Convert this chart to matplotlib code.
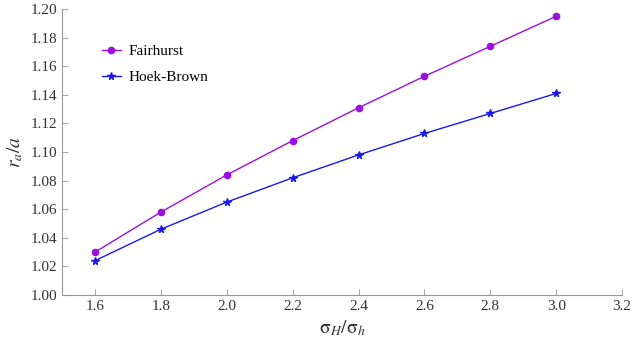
import matplotlib.pyplot as plt

# Datos
ratio = [1.6, 1.8, 2.0, 2.2, 2.4, 2.6, 2.8, 3.0]
fairhurst = [1.030, 1.058, 1.084, 1.108, 1.131, 1.153, 1.174, 1.195]
hoek_brown = [1.024, 1.046, 1.065, 1.082, 1.098, 1.113, 1.127, 1.141]

plt.rcParams['font.family'] = ['Liberation Serif', 'DejaVu Serif']
plt.rcParams['mathtext.fontset'] = 'stix'

fig = plt.figure(figsize=(6.44, 3.51), dpi=100)
ax = fig.add_axes([0.0963, 0.1595, 0.8697, 0.8145])

ax.plot(ratio, fairhurst, color='#9b10e0', marker='o', markersize=4.5, lw=1.0,
        label='Fairhurst')
ax.plot(ratio, hoek_brown, color='#1a1ae6', marker='*', markersize=5.5, lw=1.0,
        label='Hoek-Brown')

ax.set_xlim(1.5, 3.2)
ax.set_ylim(1.00, 1.20)
ax.set_xticks([1.6, 1.8, 2.0, 2.2, 2.4, 2.6, 2.8, 3.0, 3.2])
ax.set_yticks([1.00 + 0.02 * i for i in range(11)])
ax.xaxis.set_major_formatter(plt.FormatStrFormatter('%.1f'))
ax.yaxis.set_major_formatter(plt.FormatStrFormatter('%.2f'))
ax.tick_params(direction='in', length=4, color='#aaaaaa', labelsize=11,
               labelcolor='#333333')

for side in ['top', 'right']:
    ax.spines[side].set_visible(False)
for side in ['left', 'bottom']:
    ax.spines[side].set_color('#999999')

ax.set_xlabel(r'$\mathrm{\sigma}_H/\mathrm{\sigma}_h$', fontsize=14, color='#333333')
ax.set_ylabel(r'$r_a/a$', fontsize=14, color='#333333', labelpad=4)

ax.legend(loc='upper left', bbox_to_anchor=(0.046, 0.925), frameon=False,
          fontsize=11, handlelength=1.3, handletextpad=0.5, labelspacing=0.8)

fig.savefig('out.png', dpi=100)
